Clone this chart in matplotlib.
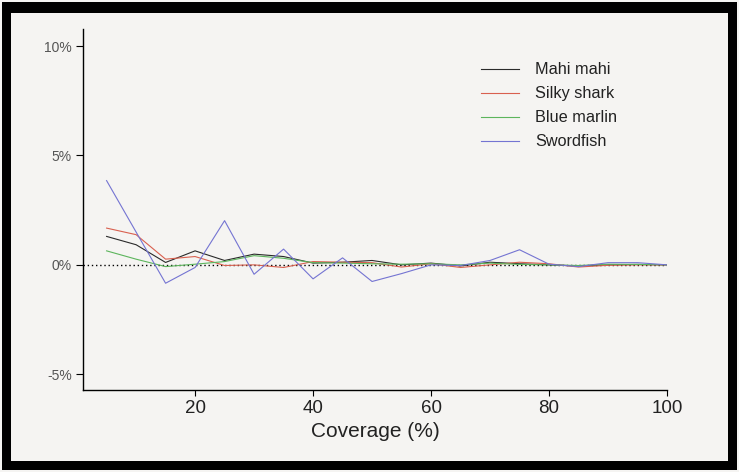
import matplotlib
matplotlib.use("Agg")
import matplotlib.pyplot as plt
from matplotlib.patches import Rectangle

plt.rcParams['font.family'] = ['Liberation Sans', 'DejaVu Sans']

coverage = [5, 10, 15, 20, 25, 30, 35, 40, 45, 50, 55, 60, 65, 70, 75, 80, 85, 90, 95, 100]
mahi_mahi = [1.30, 0.92, 0.11, 0.64, 0.20, 0.49, 0.38, 0.08, 0.12, 0.20, 0.00, 0.08,
             -0.05, 0.12, 0.05, 0.00, -0.05, 0.00, 0.02, 0.00]
silky_shark = [1.68, 1.38, 0.26, 0.38, -0.03, 0.00, -0.12, 0.15, 0.12, 0.10, -0.10, 0.05,
               -0.12, 0.00, 0.12, 0.05, -0.10, -0.02, 0.00, 0.00]
blue_marlin = [0.64, 0.26, -0.08, 0.03, 0.15, 0.42, 0.30, 0.10, 0.08, 0.05, 0.03, 0.05,
               0.00, 0.08, 0.02, 0.00, -0.03, 0.03, 0.02, 0.00]
swordfish = [3.85, 1.50, -0.84, -0.12, 2.02, -0.43, 0.72, -0.64, 0.32, -0.76, -0.40, 0.00,
             -0.03, 0.20, 0.69, 0.03, -0.08, 0.10, 0.10, 0.00]

series_names = ["Mahi mahi", "Silky shark", "Blue marlin", "Swordfish"]
series_colors = ["#2a2a2a", "#d9604f", "#5cb55c", "#7474d2"]
y_ticks = [-5, 0, 5, 10]
y_labels = ["-5%", "0%", "5%", "10%"]
x_ticks = [20, 40, 60, 80, 100]

W, H = 739, 472
bg = "#f5f4f2"
fig = plt.figure(figsize=(W / 100, H / 100), dpi=100, facecolor=bg)

# thick black frame round the figure
def px_rect(x0, y0, x1, y1, color):
    fig.add_artist(Rectangle((x0 / W, 1 - y1 / H), (x1 - x0) / W, (y1 - y0) / H,
                             transform=fig.transFigure, facecolor=color,
                             edgecolor="none", zorder=0))

px_rect(2, 2, 737, 13, "black")
px_rect(2, 2, 11, 470, "black")
px_rect(728, 2, 737, 470, "black")
px_rect(2, 461, 737, 470, "black")

left, right, top, bottom = 83, 667, 29, 390
ax = fig.add_axes([left / W, 1 - bottom / H, (right - left) / W, (bottom - top) / H])
ax.set_facecolor(bg)

ax.axhline(0, color="black", lw=1.0, ls=(0, (1, 2)), zorder=1)
for vals, name, col in zip([mahi_mahi, silky_shark, blue_marlin, swordfish],
                           series_names, series_colors):
    ax.plot(coverage, vals, color=col, lw=0.8, label=name, zorder=2)

ax.set_xlim(1.0, 100)
ax.set_ylim(-5.72, 10.78)
ax.set_xticks(x_ticks)
ax.set_yticks(y_ticks)
ax.set_yticklabels(y_labels)

for s in ["top", "right"]:
    ax.spines[s].set_visible(False)
for s in ["left", "bottom"]:
    ax.spines[s].set_linewidth(1.0)
    ax.spines[s].set_color("black")

ax.tick_params(axis="y", length=5, width=0.8, labelsize=10, labelcolor="#555555", pad=3)
ax.tick_params(axis="x", length=4, width=0.8, labelsize=13.5, labelcolor="#222222", pad=3)
ax.set_xlabel("Coverage (%)", fontsize=15, color="#222222", labelpad=4)

leg = ax.legend(loc="upper left", bbox_to_anchor=((474 - left) / (right - left), 1 - (56 - top) / (bottom - top)),
                frameon=False, fontsize=11.7, handlelength=2.35, handletextpad=1.0,
                labelspacing=0.55, borderaxespad=0)
for t in leg.get_texts():
    t.set_color("#222222")

fig.savefig("out.png", dpi=100, facecolor=bg)
